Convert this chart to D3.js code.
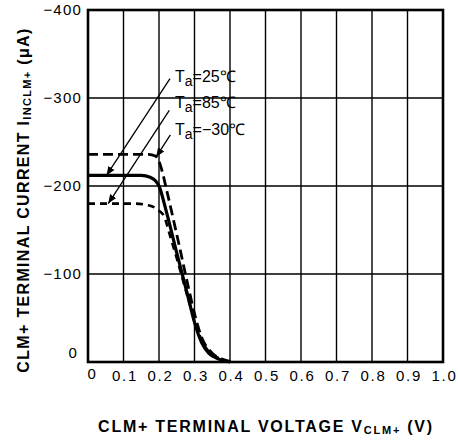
<!DOCTYPE html>
<html>
<head>
<meta charset="utf-8">
<script src="https://cdn.jsdelivr.net/npm/d3@7"></script>
<style>
  body { margin: 0; background: #fff; }
  svg { display: block; font-family: "Liberation Sans", Arial, sans-serif; }
</style>
</head>
<body>
<svg id="chart" width="458" height="440"></svg>
<script>
// terminal voltage (V) vs terminal current (uA)
const xTicks = [0, 0.1, 0.2, 0.3, 0.4, 0.5, 0.6, 0.7, 0.8, 0.9, 1.0];
const yTicks = [0, -100, -200, -300, -400];

const v25 = [0, 0.15, 0.175, 0.19, 0.2, 0.22, 0.25, 0.28, 0.3, 0.32, 0.34, 0.37, 0.4];
const i25 = [-212, -212, -210, -206, -200, -172, -124, -77, -45, -22, -10, -3, 0];

const v85 = [0, 0.13, 0.17, 0.2, 0.215, 0.23, 0.25, 0.28, 0.3, 0.32, 0.34, 0.37, 0.4];
const i85 = [-180, -180, -178, -172, -165, -145, -118, -75, -48, -25, -12, -4, 0];

const vm30 = [0, 0.17, 0.19, 0.2, 0.21, 0.22, 0.25, 0.28, 0.3, 0.32, 0.35, 0.38, 0.41];
const im30 = [-236, -236, -234, -228, -215, -198, -145, -90, -55, -28, -10, -3, 0];

// label text, label anchor (V, uA), arrow tip (V, uA)
const labelTemps = ["25℃", "85℃", "−30℃"];
const labelPos = [[0.245, -323], [0.245, -293], [0.245, -262]];
const arrowFrom = [[0.231, -322], [0.229, -286], [0.232, -258]];
const arrowTo = [[0.052, -212], [0.057, -180], [0.192, -233]];

const svg = d3.select("#chart");
const margin = {top: 10, right: 15, bottom: 78, left: 88};
const width = 458 - margin.left - margin.right,
      height = 440 - margin.top - margin.bottom;

const x = d3.scaleLinear().domain([0, 1]).range([0, width]);
const y = d3.scaleLinear().domain([0, -400]).range([height, 0]);

const g = svg.append("g").attr("transform", "translate(" + margin.left + "," + margin.top + ")");

// grid
g.selectAll(".vgrid").data(xTicks.slice(1, -1)).enter().append("line")
  .attr("x1", d => x(d)).attr("x2", d => x(d))
  .attr("y1", 0).attr("y2", height)
  .attr("stroke", "#000").attr("stroke-width", 1.4);
g.selectAll(".hgrid").data(yTicks.slice(1, -1)).enter().append("line")
  .attr("x1", 0).attr("x2", width)
  .attr("y1", d => y(d)).attr("y2", d => y(d))
  .attr("stroke", "#000").attr("stroke-width", 1.4);

// frame
g.append("rect").attr("width", width).attr("height", height)
  .attr("fill", "none").attr("stroke", "#000").attr("stroke-width", 2.6);

// axes labels (drawn with d3 axes, domain lines hidden)
const fmtV = d => d === 0 ? "0" : d3.format(".1f")(d);
const xAxis = g.append("g").attr("transform", "translate(0," + height + ")")
  .call(d3.axisBottom(x).tickValues(xTicks).tickFormat(fmtV).tickSize(0).tickPadding(9));
xAxis.select(".domain").remove();
xAxis.selectAll("text").attr("font-size", 15).attr("fill", "#000")
  .attr("font-family", "Liberation Sans, Arial, sans-serif")
  .attr("letter-spacing", 1.8)
  .attr("dx", d => d === 0 ? 4 : 1)
  .attr("dy", d => d === 0 ? "0.5em" : "0.68em");

const fmtI = d => d === 0 ? "0" : "−" + Math.abs(d);
const yAxis = g.append("g")
  .call(d3.axisLeft(y).tickValues(yTicks).tickFormat(fmtI).tickSize(0).tickPadding(6));
yAxis.select(".domain").remove();
yAxis.selectAll("text").attr("font-size", 15).attr("fill", "#000")
  .attr("font-family", "Liberation Sans, Arial, sans-serif")
  .attr("letter-spacing", 1.2)
  .attr("dy", d => d === 0 ? "-0.3em" : "0.32em")
  .attr("dx", d => d === 0 ? -4 : 0);

// curves
const line = d3.line().x(d => x(d[0])).y(d => y(d[1])).curve(d3.curveMonotoneX);
const series = [
  {v: v85, i: i85, dash: "7,5", w: 2.6},
  {v: vm30, i: im30, dash: "10,5", w: 2.8},
  {v: v25, i: i25, dash: null, w: 3.2}
];
series.forEach(s => {
  g.append("path").datum(d3.zip(s.v, s.i))
    .attr("d", line)
    .attr("fill", "none").attr("stroke", "#000")
    .attr("stroke-width", s.w)
    .attr("stroke-dasharray", s.dash);
});

// arrows
svg.append("defs").append("marker")
  .attr("id", "arr").attr("viewBox", "0 0 10 10")
  .attr("refX", 10).attr("refY", 5)
  .attr("markerWidth", 9).attr("markerHeight", 9)
  .attr("markerUnits", "userSpaceOnUse")
  .attr("orient", "auto")
  .append("path").attr("d", "M0,1 L10,5 L0,9 Z").attr("fill", "#000");

arrowFrom.forEach((a, k) => {
  g.append("line")
    .attr("x1", x(a[0])).attr("y1", y(a[1]))
    .attr("x2", x(arrowTo[k][0])).attr("y2", y(arrowTo[k][1]))
    .attr("stroke", "#000").attr("stroke-width", 1.3)
    .attr("marker-end", "url(#arr)");
});

// Ta labels
labelTemps.forEach((t, k) => {
  const txt = g.append("text")
    .attr("x", x(labelPos[k][0])).attr("y", y(labelPos[k][1]))
    .attr("font-size", 16).attr("fill", "#000")
    .attr("dominant-baseline", "middle");
  txt.append("tspan").text("T");
  txt.append("tspan").attr("font-size", 14).attr("dy", 4).text("a");
  txt.append("tspan").attr("dy", -4).text("=" + t);
});

// stretch a title to a given length with letter spacing
function fit(sel, target) {
  const n = sel.text().length;
  const len = sel.node().getComputedTextLength();
  sel.attr("letter-spacing", Math.max(0, (target - len) / (n - 1)));
}

// axis titles
const xt = svg.append("text")
  .attr("x", 266).attr("y", 432)
  .attr("text-anchor", "middle")
  .attr("font-size", 16).attr("font-weight", "bold").attr("fill", "#000");
xt.append("tspan").text("CLM+ TERMINAL VOLTAGE V");
xt.append("tspan").attr("font-size", 11).attr("dy", 2).text("CLM+");
xt.append("tspan").attr("dy", -2).text(" (V)");
fit(xt, 334);

const yt = svg.append("text")
  .attr("transform", "translate(29,200) rotate(-90)")
  .attr("text-anchor", "middle")
  .attr("font-size", 16).attr("font-weight", "bold").attr("fill", "#000");
yt.append("tspan").text("CLM+ TERMINAL CURRENT I");
yt.append("tspan").attr("font-size", 11).attr("dy", 2).text("INCLM+");
yt.append("tspan").attr("dy", -2).text(" (μA)");
fit(yt, 344);
</script>
</body>
</html>
